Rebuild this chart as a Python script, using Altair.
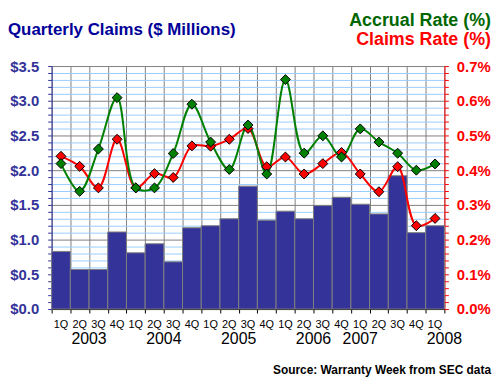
import altair as alt
import pandas as pd

quarters = ["1Q", "2Q", "3Q", "4Q"] * 5 + ["1Q"]
claims_musd = [0.83, 0.57, 0.57, 1.11, 0.81, 0.94, 0.68, 1.17, 1.20, 1.30, 1.77,
               1.28, 1.41, 1.30, 1.49, 1.61, 1.51, 1.37, 1.92, 1.10, 1.20]
accrual_rate = [0.419, 0.339, 0.461, 0.609, 0.349, 0.349, 0.448, 0.590, 0.481, 0.402, 0.530,
                0.389, 0.661, 0.449, 0.499, 0.438, 0.519, 0.481, 0.449, 0.400, 0.418]
claims_rate = [0.440, 0.411, 0.349, 0.489, 0.349, 0.390, 0.379, 0.470, 0.469, 0.489, 0.520,
               0.410, 0.438, 0.389, 0.419, 0.451, 0.389, 0.338, 0.410, 0.240, 0.261]
years = ["2003", "2004", "2005", "2006", "2007", "2008"]
year_pos = [2, 6, 10, 14, 16.5, 21]

FONT = "Liberation Sans"
NAVY = "#333399"
GREEN = "#008000"
RED = "#FF0000"

n = len(quarters)
df = pd.DataFrame({
    "idx": list(range(n)),
    "q": quarters,
    "claims": claims_musd,
})
df["x0"] = df["idx"]
df["x1"] = df["idx"] + 1
df["xm"] = df["idx"] + 0.5

long = pd.concat([
    pd.DataFrame({"xm": df["xm"], "rate": claims_rate, "series": "Claims Rate"}),
    pd.DataFrame({"xm": df["xm"], "rate": accrual_rate, "series": "Accrual Rate"}),
])

ydf = pd.DataFrame({"year": years, "pos": year_pos})

x_scale = alt.Scale(domain=[0, n], nice=False, zero=False)
x_axis = alt.Axis(values=list(range(n + 1)), labels=False, title=None, grid=True,
                  gridColor="#808080", gridWidth=1, tickColor="black", tickSize=4,
                  domainColor="black")

left_vals = [round(i * 0.1, 1) for i in range(36)]
right_vals = [round(i * 0.02, 2) for i in range(36)]

y_left = alt.Y(
    "claims:Q",
    scale=alt.Scale(domain=[0, 3.5], nice=False),
    axis=alt.Axis(
        values=left_vals, title=None, orient="left",
        labelExpr="abs(datum.value*2 - round(datum.value*2)) < 0.001 ? '$' + format(datum.value, '.1f') : ''",
        labelOverlap=False, labelFont=FONT, labelFontSize=15, labelFontWeight="bold",
        labelColor=NAVY, labelPadding=9, tickSize=4, tickColor=NAVY, domainColor=NAVY,
        grid=True, gridWidth=1,
        gridColor={"condition": {"test": "abs(datum.value*2 - round(datum.value*2)) < 0.001",
                                 "value": "#808080"}, "value": "#99CCFF"},
    ),
)

y_right = alt.Y(
    "rate:Q",
    scale=alt.Scale(domain=[0, 0.7], nice=False),
    axis=alt.Axis(
        values=right_vals, title=None, orient="right", grid=False,
        labelExpr="abs(datum.value*10 - round(datum.value*10)) < 0.001 ? format(datum.value, '.1f') + '%' : ''",
        labelOverlap=False, labelFont=FONT, labelFontSize=15, labelFontWeight="bold",
        labelColor=RED, labelPadding=8, tickSize=4, tickColor=RED, domainColor=RED,
    ),
)

color = alt.Color("series:N", scale=alt.Scale(domain=["Claims Rate", "Accrual Rate"],
                                              range=[RED, GREEN]), legend=None)

bars = alt.Chart(df).mark_rect(color=NAVY, stroke="#808080", strokeWidth=1).encode(
    x=alt.X("x0:Q", scale=x_scale, axis=x_axis),
    x2="x1:Q",
    y=y_left,
    y2=alt.datum(0),
)

lines = alt.Chart(long).mark_line(interpolate="catmull-rom", strokeWidth=2).encode(
    x=alt.X("xm:Q", scale=x_scale, axis=x_axis),
    y=y_right,
    color=color,
)

points = alt.Chart(long).mark_point(shape="diamond", filled=True, size=100, opacity=1,
                                    stroke="black", strokeWidth=1).encode(
    x=alt.X("xm:Q", scale=x_scale, axis=x_axis),
    y=y_right,
    color=color,
)

q_text = alt.Chart(df).mark_text(font=FONT, fontSize=11, color="black", baseline="alphabetic").encode(
    x=alt.X("xm:Q", scale=x_scale, axis=x_axis),
    y=alt.value(264),
    text="q:N",
)

y_text = alt.Chart(ydf).mark_text(font=FONT, fontSize=16, color="black", baseline="alphabetic").encode(
    x=alt.X("pos:Q", scale=x_scale, axis=x_axis),
    y=alt.value(280),
    text="year:N",
)

def label(txt, x, y, size, colr, align, weight="bold"):
    return alt.Chart(pd.DataFrame({"t": [txt]})).mark_text(
        font=FONT, fontSize=size, fontWeight=weight, color=colr, align=align,
        baseline="alphabetic").encode(x=alt.value(x), y=alt.value(y), text="t:N")

t_left = label("Quarterly Claims ($ Millions)", -44, -31, 17, "#000099", "left")
t_acc = label("Accrual Rate (%)", 443, -40, 18, "#006600", "right")
t_clm = label("Claims Rate (%)", 443, -21, 18, RED, "right")
t_src = label("Source: Warranty Week from SEC data", 443, 311, 12, "black", "right")

rates = alt.layer(lines, points)

chart = alt.layer(bars, rates, q_text, y_text, t_left, t_acc, t_clm, t_src).resolve_scale(
    y="independent"
).properties(
    width=396, height=245,
    autosize=alt.AutoSizeParams(type="none"),
    padding={"left": 44, "top": 57, "right": 48, "bottom": 67},
).configure_view(stroke=None)

chart.save("out.html", embed_options={"renderer": "svg", "actions": False})
